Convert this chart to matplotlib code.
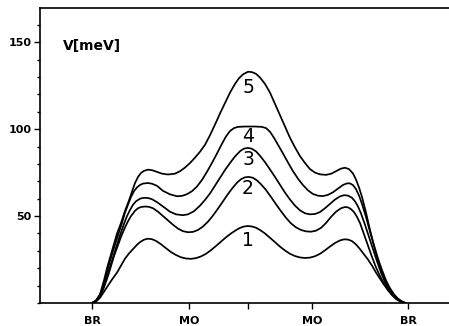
import matplotlib
matplotlib.use("Agg")
import matplotlib.pyplot as plt
from matplotlib.ticker import MultipleLocator

# Curve 1
x1 = [92, 96, 100, 104, 108, 112, 117, 121, 125, 129, 133, 137, 140, 144, 148, 152, 156, 161, 166, 171,
      176, 181, 186, 191, 196, 201, 206, 211, 216, 221, 226, 231, 236, 240, 244, 248, 252, 256, 260,
      265, 270, 275, 280, 285, 290, 295, 300, 305, 310, 315, 320, 325, 330, 335, 340, 344, 348, 352,
      356, 360, 364, 368, 372, 376, 380, 384, 388, 392, 396, 400, 404, 406]
v1 = [0, 0.8, 3, 6.5, 10, 13.5, 17.5, 21.5, 25.5, 28.5, 31, 33.5, 35, 36.4, 37, 36.7, 35.7, 33.8, 31.5, 29.3,
      27.6, 26.3, 25.6, 25.4, 25.8, 26.8, 28.3, 30.4, 32.8, 35.3, 37.8, 40, 41.9, 43.2, 44, 44.3, 44, 43.3, 42,
      40, 37.5, 35, 32.4, 30.2, 28.3, 27, 26.2, 25.9, 26.1, 26.9, 28.3, 30.3, 32.5, 34.5, 36, 36.6, 36.5, 35.6,
      33.7, 31, 28, 25, 21.5, 17.5, 14, 10.5, 7.5, 5, 3, 1.3, 0.3, 0]

# Curve 2
x2 = [92, 96, 100, 104, 108, 114, 121, 125, 128, 131, 135, 138, 141, 145, 149, 153, 158, 163, 168,
      173, 178, 183, 188, 193, 198, 203, 208, 213, 218, 223, 228, 233, 237, 241, 245, 249, 253, 257,
      261, 266, 271, 276, 281, 286, 291, 296, 301, 306, 311, 316, 321, 326, 331, 336, 341, 345, 348,
      351, 354, 357, 360, 364, 368, 372, 376, 380, 384, 388, 392, 396, 400, 404]
v2 = [0, 1, 3.5, 9, 15.5, 27, 38, 43.5, 47, 50, 53, 54.5, 55.2, 55.5, 55.3, 54.5, 52.5, 50, 47.5,
      45, 42.8, 41.3, 40.7, 40.9, 42, 44, 46.8, 50.3, 54.3, 58.5, 62.7, 66.5, 69.2, 71.2, 72.3, 72.5, 72, 70.5,
      68.3, 65, 61, 56.8, 52.8, 49, 45.8, 43.5, 42, 41.2, 41, 41.6, 43.2, 46, 49.5, 52.5, 54.5, 55.2, 55,
      54, 52.3, 49.5, 46, 39.5, 33, 26.5, 20.5, 15.5, 11, 7.3, 4.5, 2.3, 0.9, 0]

# Curve 3
x3 = [92, 96, 100, 104, 108, 114, 120, 124, 127, 130, 133, 136, 140, 144, 148, 152, 157, 163, 170,
      176, 183, 188, 194, 200, 205, 210, 215, 220, 225, 230, 235, 240, 244, 248, 252, 256, 260, 265,
      270, 275, 280, 285, 290, 295, 300, 305, 310, 315, 320, 325, 330, 335, 340, 344, 348, 352, 355,
      358, 361, 365, 369, 373, 377, 381, 385, 389, 393, 397, 401, 404]
v3 = [0, 1.2, 4, 10, 17, 28, 39, 45.5, 50, 53.5, 56.5, 58.5, 60, 60.5, 60.4, 59.7, 58, 55.5, 52.5,
      51, 50.5, 51, 52.8, 56, 59.3, 63, 67.5, 72, 76.5, 80.5, 84.3, 87.3, 88.8, 89.2, 88.7, 87.2, 84.7, 81,
      76.8, 72.5, 68, 63.5, 59.5, 56, 53.3, 51.6, 51, 51.2, 52.3, 54.5, 57, 59.5, 61.3, 62, 61.8, 60.5, 58.5,
      55.5, 51.5, 45, 38, 31, 24, 17.5, 12, 7.8, 4.5, 2.2, 0.8, 0]

# Curve 4
x4 = [92, 96, 100, 104, 107, 112, 118, 122, 125, 128, 131, 134, 137, 140, 143, 148, 152, 157, 163,
      170, 177, 182, 187, 192, 197, 202, 207, 212, 217, 222, 226, 230, 234, 238, 245, 255, 262, 266,
      270, 274, 278, 283, 288, 293, 298, 303, 308, 313, 318, 323, 328, 333, 338, 343, 347, 350, 353,
      356, 359, 362, 366, 370, 374, 378, 382, 386, 390, 394, 398, 402, 405]
v4 = [0, 1.3, 4.5, 11, 18, 28, 39, 46, 52, 56.5, 61, 64.3, 66.5, 67.9, 68.7, 69, 68.6, 67.4, 64.5,
      62.5, 61.4, 61.6, 62.6, 64.3, 67, 70.8, 75.5, 80.6, 86, 91.6, 95.8, 98.9, 100.6, 101.3, 101.5, 101.5, 101.3, 100.6,
      98.5, 95, 91, 86, 80.8, 75.8, 71.5, 67.8, 64.8, 62.7, 61.7, 61.5, 62.2, 63.7, 65.8, 67.9, 68.8, 68.8, 67.8,
      65.5, 61.8, 57, 49.5, 41, 33, 25.5, 19, 13, 8.5, 5, 2.5, 0.9, 0]

# Curve 5
x5 = [92, 96, 100, 104, 107, 112, 117, 121, 125, 129, 132, 135, 138, 141, 144, 148, 152, 156, 162,
      168, 175, 180, 185, 190, 195, 200, 205, 210, 215, 220, 225, 230, 235, 239, 243, 248, 252, 256,
      260, 265, 270, 275, 280, 285, 290, 295, 300, 305, 310, 315, 320, 326, 331, 336, 341, 345, 349,
      353, 356, 359, 362, 366, 370, 374, 378, 382, 386, 390, 395, 399, 403, 406]
v5 = [0, 1.5, 5, 13, 20, 30, 40, 46, 53, 59, 64, 69, 72.5, 74.8, 76, 76.7, 76.4, 75.6, 74.4,
      73.9, 74.4, 75.8, 77.9, 80.5, 83.6, 87, 91, 96.5, 102.6, 109, 115, 121, 126, 129.3, 131.5, 133, 132.8, 131.8,
      129.7, 126, 121, 114.5, 108, 101.5, 95, 89.5, 84.5, 80.5, 77, 75, 74, 73.7, 74.3, 75.8, 77.3, 77.8, 77,
      74.5, 71, 66.5, 61, 52, 42, 33, 24.5, 17, 11, 7, 3.5, 1.6, 0.5, 0]

curve_labels = ["1", "2", "3", "4", "5"]
label_pos = [(248, 36), (248, 66), (248, 82.5), (248, 95.5), (248, 124)]

xtick_pos = [92, 189, 248, 312, 408]
xtick_labels = ["BR", "MO", "", "MO", "BR"]
ytick_pos = [50, 100, 150]

fig = plt.figure(figsize=(4.49, 3.26), dpi=100)
ax = fig.add_axes([40 / 449, (326 - 303) / 326, 1.03 - 40 / 449, (303 - 8.3) / 326])

for xs, vs in [(x1, v1), (x2, v2), (x3, v3), (x4, v4), (x5, v5)]:
    ax.plot(xs, vs, color="black", lw=1.25, solid_joinstyle="round", solid_capstyle="round")

for lab, (lx, ly) in zip(curve_labels, label_pos):
    ax.text(lx, ly, lab, ha="center", va="center", fontsize=13.5, color="black")

ax.text(63, 148, "V[meV]", ha="left", va="center", fontsize=10, fontweight="bold")

ax.set_xlim(40, 449 + 0.03 * 449)
ax.set_ylim(0, 169.5)
ax.set_xticks(xtick_pos)
ax.set_xticklabels(xtick_labels, fontsize=8, fontweight="bold")
ax.set_yticks(ytick_pos)
ax.set_yticklabels([str(v) for v in ytick_pos], fontsize=8, fontweight="bold")
ax.yaxis.set_minor_locator(MultipleLocator(10))
ax.tick_params(axis="both", which="major", direction="out", length=4, width=1, pad=2)
ax.tick_params(axis="x", which="major", pad=5)
ax.tick_params(axis="y", which="minor", direction="out", length=2, width=1)
ax.spines["right"].set_visible(False)
for s in ["left", "top", "bottom"]:
    ax.spines[s].set_linewidth(1.2)

fig.savefig("out.png", dpi=100)
